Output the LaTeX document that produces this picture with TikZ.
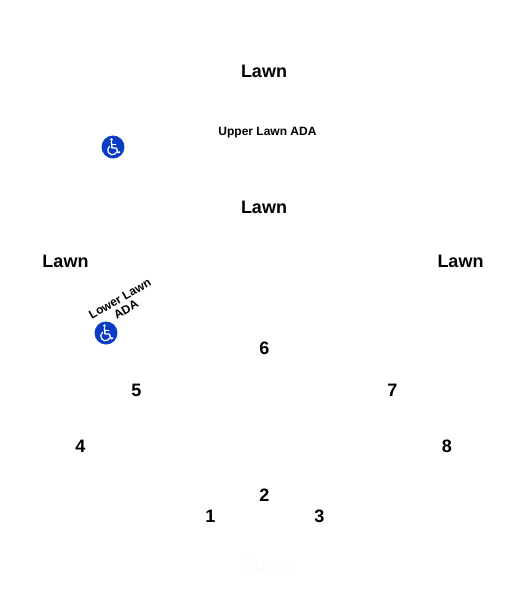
\documentclass[tikz,border=0pt]{standalone}
\usepackage{fontspec}
\setmainfont{Liberation Sans}
\begin{document}
\begin{tikzpicture}[x=1pt,y=-1pt,
  big/.style={font=\fontsize{18}{20}\selectfont\bfseries,text=black,inner sep=0pt},
  small/.style={font=\fontsize{12}{12.5}\selectfont\bfseries,text=black,inner sep=0pt,align=center},
  wheel/.pic={
    \fill[adablue] (0,0) circle (11.5);
    \fill[white] (-1.6,-7.4) circle (1.5);
    \draw[white,line width=1.4,line join=round,line cap=round] (-1.6,-5.2) -- (-1.0,1.0) -- (3.2,1.0) -- (5.2,5.8) -- (6.8,5.0);
    \draw[white,line width=1.2,line cap=round] (-1.3,-2.2) -- (2.8,-2.2);
    \draw[white,line width=1.2] (-3.3,-0.8) arc[start angle=235,end angle=20,radius=4.7];
  }]
\definecolor{adablue}{HTML}{0A3CC4}
\definecolor{faint}{HTML}{FCFCFC}
\useasboundingbox (0,0) rectangle (525,590);
\fill[white] (0,0) rectangle (525,590);
\node[big] (lawnA) at (264,71) {Lawn};
\node[big] (lawnB) at (264,207.5) {Lawn};
\node[big] (lawnC) at (65.5,261) {Lawn};
\node[big] (lawnD) at (460.5,261) {Lawn};
\node[small] (upper) at (267.5,132.5) {Upper Lawn ADA};
\node[small,rotate=30] (lower) at (123,304) {Lower Lawn\\ADA};
\pic at (113,147) {wheel};
\pic at (106,333) {wheel};
\node[big] (s6) at (264.5,348) {6};
\node[big] (s5) at (136.5,390.5) {5};
\node[big] (s7) at (392.5,390.5) {7};
\node[big] (s4) at (80.5,446.5) {4};
\node[big] (s8) at (447,446.5) {8};
\node[big] (s2) at (264.5,495.5) {2};
\node[big] (s1) at (210.5,516) {1};
\node[big] (s3) at (319.5,516) {3};
\node[font=\fontsize{20}{22}\selectfont\bfseries,text=faint,inner sep=0pt] (stage) at (267,568) {Stage};
\end{tikzpicture}
\end{document}
